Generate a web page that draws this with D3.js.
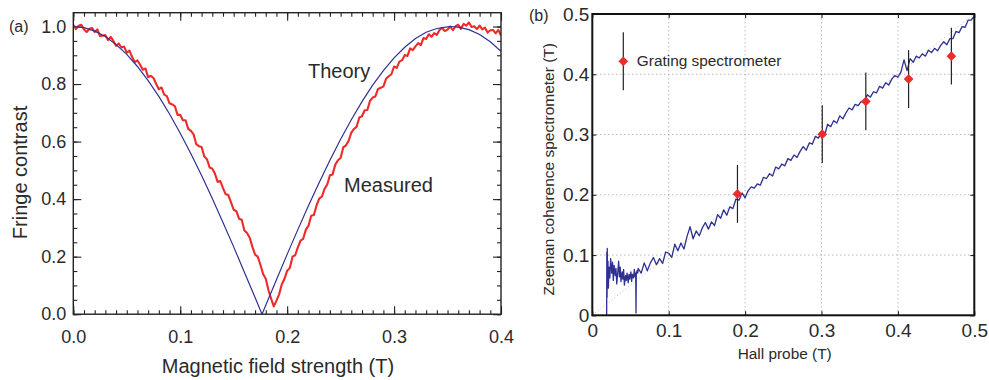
<!DOCTYPE html>
<html><head><meta charset="utf-8">
<script src="https://cdn.jsdelivr.net/npm/d3@7"></script>
<style>
body{margin:0;background:#fff;}
svg{display:block;font-family:"Liberation Sans",Arial,Helvetica,sans-serif;}
</style></head><body>
<svg id="chart" width="989" height="380"></svg>
<script>
// ---------- Panel (a) data ----------
const theoryB = [0,0.01,0.02,0.03,0.04,0.05,0.06,0.07,0.08,0.09,0.10,0.11,0.12,0.13,0.14,0.15,0.16,0.17,0.1765,0.18,0.19,0.20,0.21,0.22,0.23,0.24,0.25,0.26,0.27,0.28,0.29,0.30,0.31,0.32,0.33,0.34,0.35,0.353,0.36,0.37,0.38,0.39,0.40];
const theoryC = [1.000,0.996,0.984,0.965,0.937,0.903,0.861,0.812,0.757,0.696,0.629,0.558,0.482,0.402,0.319,0.234,0.146,0.058,0.000,0.031,0.120,0.208,0.294,0.378,0.458,0.535,0.608,0.676,0.739,0.796,0.847,0.891,0.928,0.958,0.980,0.993,0.999,1.000,0.998,0.989,0.972,0.947,0.914];
const measuredStart = 0, measuredStep = 0.0025;
const measuredC = [1.006,0.991,1.003,1.006,0.990,0.981,0.992,0.995,0.981,0.990,0.967,0.968,0.970,0.953,0.964,0.950,0.933,0.941,0.927,0.930,
0.909,0.916,0.894,0.876,0.882,0.867,0.850,0.854,0.824,0.829,0.821,0.800,0.782,0.788,0.763,0.758,0.733,0.729,0.723,0.693,
0.693,0.674,0.674,0.644,0.637,0.625,0.591,0.584,0.581,0.548,0.539,0.510,0.506,0.488,0.460,0.463,0.438,0.417,0.414,0.389,
0.363,0.358,0.332,0.328,0.291,0.282,0.266,0.234,0.207,0.200,0.172,0.140,0.123,0.084,0.054,0.027,0.047,0.069,0.104,0.123,
0.151,0.161,0.200,0.205,0.232,0.256,0.262,0.294,0.308,0.342,0.345,0.378,0.402,0.409,0.436,0.451,0.483,0.486,0.520,0.535,
0.543,0.580,0.587,0.603,0.631,0.644,0.652,0.684,0.688,0.709,0.710,0.742,0.753,0.757,0.783,0.787,0.791,0.818,0.827,0.834,
0.861,0.856,0.878,0.883,0.901,0.897,0.924,0.918,0.931,0.942,0.935,0.960,0.957,0.973,0.964,0.977,0.971,0.988,0.995,0.984,
0.989,1.000,0.987,1.001,1.006,0.992,1.009,1.003,1.014,0.998,1.001,0.991,1.003,0.990,0.996,0.979,0.987,0.988,0.976,0.988,0.969];
const leftXTicks = [0,0.1,0.2,0.3,0.4];
const leftXLabels = ["0.0","0.1","0.2","0.3","0.4"];
const leftYTicks = [0,0.2,0.4,0.6,0.8,1.0];
const leftYLabels = ["0.0","0.2","0.4","0.6","0.8","1.0"];

// ---------- Panel (b) data ----------
const hallNoisyB = [0.0188,0.0190,0.0193,0.0196,0.0200,0.0205,0.0210,0.0220,0.0230,0.0240,0.0255,0.0265,0.0275,0.0285,0.0300,0.0310,0.0320,0.0335,0.0345,0.0355,0.0365,0.0375,0.0390,0.0400,0.0410,0.0420,0.0435,0.0445,0.0455,0.0470,0.0480,0.0490,0.0505,0.0515,0.0525,0.0540,0.0550,0.0560,0.0568,0.0572,0.0576,0.0585,0.0595];
const hallNoisyZ = [0.000,0.105,0.030,0.111,0.060,0.090,0.045,0.080,0.062,0.094,0.070,0.088,0.058,0.083,0.066,0.078,0.052,0.074,0.090,0.064,0.080,0.056,0.072,0.060,0.076,0.050,0.066,0.058,0.070,0.054,0.068,0.060,0.072,0.056,0.068,0.062,0.076,0.064,0.070,0.004,0.068,0.074,0.070];
const hallStart = 0.06, hallStep = 0.004;
const hallZ = [0.078,0.070,0.087,0.074,0.087,0.096,0.084,0.094,0.086,0.105,0.103,0.096,0.118,0.107,0.120,0.110,0.131,0.147,0.127,0.140,
0.132,0.145,0.154,0.143,0.155,0.149,0.167,0.161,0.175,0.166,0.180,0.177,0.193,0.191,0.203,0.195,0.207,0.213,0.211,0.218,
0.216,0.229,0.227,0.235,0.231,0.246,0.243,0.251,0.248,0.260,0.257,0.266,0.262,0.272,0.280,0.274,0.286,0.284,0.297,0.294,
0.304,0.298,0.317,0.313,0.323,0.319,0.331,0.326,0.336,0.344,0.341,0.350,0.348,0.355,0.353,0.366,0.362,0.371,0.369,0.380,
0.377,0.386,0.382,0.392,0.398,0.395,0.404,0.424,0.406,0.426,0.420,0.430,0.427,0.434,0.430,0.440,0.436,0.443,0.439,0.448,
0.454,0.449,0.459,0.459,0.471,0.469,0.479,0.478,0.490,0.490,0.497];
const gratingB = [0.190,0.301,0.358,0.414,0.470];
const gratingZ = [0.2015,0.3006,0.355,0.392,0.430];
const gratingErr = [0.048,0.048,0.048,0.048,0.047];
const rightTicks = [0,0.1,0.2,0.3,0.4,0.5];
const rightLabels = ["0","0.1","0.2","0.3","0.4","0.5"];

// ---------- drawing ----------
const svg = d3.select("#chart");
const TXT = "#2a2a2a", BLUE = "#2e3192", RED = "#ee2a2a";

// Panel (a)
const xa = d3.scaleLinear().domain([0,0.4]).range([73.3,501]);
const ya = d3.scaleLinear().domain([0,1.048]).range([314.2,12.7]);
const ga = svg.append("g");
svg.append("clipPath").attr("id","clipA").append("rect")
  .attr("x",xa(0)).attr("y",ya(1.048)).attr("width",xa(0.4)-xa(0)).attr("height",ya(0)-ya(1.048));

function styleAxis(g, size){ g.select(".domain").remove(); g.selectAll(".tick line").attr("stroke","#222").attr("stroke-width",1.1); g.selectAll("text").attr("fill",TXT).style("font-size",size+"px"); }

const minorX = d3.range(0,0.4001,0.01), minorY = d3.range(0,1.0001,0.05);
ga.append("g").attr("transform",`translate(0,${ya(0)})`).call(d3.axisBottom(xa).tickValues(minorX).tickSize(-4).tickFormat("")).call(g=>styleAxis(g,18));
ga.append("g").attr("transform",`translate(0,${ya(0)})`).call(d3.axisBottom(xa).tickValues(leftXTicks).tickSize(-8).tickPadding(16).tickFormat((d,i)=>leftXLabels[i])).call(g=>styleAxis(g,18));
ga.append("g").attr("transform",`translate(0,${ya(1.048)})`).call(d3.axisTop(xa).tickValues(minorX).tickSize(-4).tickFormat("")).call(g=>styleAxis(g,18));
ga.append("g").attr("transform",`translate(0,${ya(1.048)})`).call(d3.axisTop(xa).tickValues(leftXTicks).tickSize(-8).tickFormat("")).call(g=>styleAxis(g,18));
ga.append("g").attr("transform",`translate(${xa(0)},0)`).call(d3.axisLeft(ya).tickValues(minorY).tickSize(-4).tickFormat("")).call(g=>styleAxis(g,18));
ga.append("g").attr("transform",`translate(${xa(0)},0)`).call(d3.axisLeft(ya).tickValues(leftYTicks).tickSize(-8).tickPadding(7).tickFormat((d,i)=>leftYLabels[i])).call(g=>styleAxis(g,18));
ga.append("g").attr("transform",`translate(${xa(0.4)},0)`).call(d3.axisRight(ya).tickValues(minorY).tickSize(-4).tickFormat("")).call(g=>styleAxis(g,18));
ga.append("g").attr("transform",`translate(${xa(0.4)},0)`).call(d3.axisRight(ya).tickValues(leftYTicks).tickSize(-8).tickFormat("")).call(g=>styleAxis(g,18));

const measured = measuredC.map((c,i)=>[measuredStart+i*measuredStep,c]);
ga.append("path").datum(measured).attr("clip-path","url(#clipA)")
  .attr("fill","none").attr("stroke",RED).attr("stroke-width",2.1).attr("stroke-linejoin","round")
  .attr("d",d3.line().x(d=>xa(d[0])).y(d=>ya(d[1])));
ga.append("path").datum(theoryB.map((b,i)=>[b,theoryC[i]])).attr("clip-path","url(#clipA)")
  .attr("fill","none").attr("stroke",BLUE).attr("stroke-width",1.2)
  .attr("d",d3.line().x(d=>xa(d[0])).y(d=>ya(d[1])));
ga.append("rect").attr("x",xa(0)).attr("y",ya(1.048)).attr("width",xa(0.4)-xa(0)).attr("height",ya(0)-ya(1.048))
  .attr("fill","none").attr("stroke","#222").attr("stroke-width",1.4);

ga.append("text").attr("x",308).attr("y",78).attr("fill",TXT).style("font-size","20px").text("Theory");
ga.append("text").attr("x",344).attr("y",192).attr("fill",TXT).style("font-size","20px").text("Measured");
ga.append("text").attr("x",9).attr("y",32).attr("fill",TXT).style("font-size","16px").text("(a)");
ga.append("text").attr("transform",`translate(27,172.5) rotate(-90)`).attr("text-anchor","middle").attr("fill",TXT).style("font-size","20px").text("Fringe contrast");
ga.append("text").attr("x",278).attr("y",373).attr("text-anchor","middle").attr("fill",TXT).style("font-size","20px").text("Magnetic field strength (T)");

// Panel (b)
const xb = d3.scaleLinear().domain([0,0.5]).range([592.3,974.3]);
const yb = d3.scaleLinear().domain([0,0.5]).range([315.3,14]);
const gb = svg.append("g");
svg.append("clipPath").attr("id","clipB").append("rect")
  .attr("x",xb(0)).attr("y",yb(0.5)).attr("width",xb(0.5)-xb(0)).attr("height",yb(0)-yb(0.5));

const inner = rightTicks.slice(1,-1);
gb.append("g").selectAll("line").data(inner).join("line")
  .attr("x1",d=>xb(d)).attr("x2",d=>xb(d)).attr("y1",yb(0)).attr("y2",yb(0.5))
  .attr("stroke","#999").attr("stroke-width",1).attr("stroke-dasharray","1,3");
gb.append("g").selectAll("line").data(inner).join("line")
  .attr("y1",d=>yb(d)).attr("y2",d=>yb(d)).attr("x1",xb(0)).attr("x2",xb(0.5))
  .attr("stroke","#999").attr("stroke-width",1).attr("stroke-dasharray","1,3");
gb.append("line").attr("x1",xb(0)).attr("y1",yb(0)).attr("x2",xb(0.5)).attr("y2",yb(0.5))
  .attr("stroke","#bbb").attr("stroke-width",1).attr("stroke-dasharray","1,2.5");

gb.append("g").attr("transform",`translate(0,${yb(0)})`).call(d3.axisBottom(xb).tickValues(rightTicks).tickSize(-4).tickPadding(8).tickFormat((d,i)=>rightLabels[i])).call(g=>styleAxis(g,19));
gb.append("g").attr("transform",`translate(${xb(0)},0)`).call(d3.axisLeft(yb).tickValues(rightTicks).tickSize(-4).tickPadding(3).tickFormat((d,i)=>rightLabels[i])).call(g=>styleAxis(g,19));
gb.append("g").attr("transform",`translate(0,${yb(0.5)})`).call(d3.axisTop(xb).tickValues(rightTicks).tickSize(-4).tickFormat("")).call(g=>styleAxis(g,19));
gb.append("g").attr("transform",`translate(${xb(0.5)},0)`).call(d3.axisRight(yb).tickValues(rightTicks).tickSize(-4).tickFormat("")).call(g=>styleAxis(g,19));

const hall = hallNoisyB.map((b,i)=>[b,hallNoisyZ[i]]).concat(hallZ.map((z,i)=>[hallStart+i*hallStep,z]));
gb.append("path").datum(hall).attr("clip-path","url(#clipB)")
  .attr("fill","none").attr("stroke",BLUE).attr("stroke-width",1.3).attr("stroke-linejoin","round")
  .attr("d",d3.line().x(d=>xb(d[0])).y(d=>yb(d[1])));

const pts = gratingB.map((b,i)=>({b,z:gratingZ[i],e:gratingErr[i]}));
gb.append("g").selectAll("line").data(pts).join("line")
  .attr("x1",d=>xb(d.b)).attr("x2",d=>xb(d.b)).attr("y1",d=>yb(d.z-d.e)).attr("y2",d=>yb(d.z+d.e))
  .attr("stroke","#222").attr("stroke-width",1.2);
const diamond = d3.symbol().type(d3.symbolDiamond2).size(60);
gb.append("g").selectAll("path").data(pts).join("path")
  .attr("transform",d=>`translate(${xb(d.b)},${yb(d.z)})`).attr("d",diamond).attr("fill",RED);

gb.append("rect").attr("x",xb(0)).attr("y",yb(0.5)).attr("width",xb(0.5)-xb(0)).attr("height",yb(0)-yb(0.5))
  .attr("fill","none").attr("stroke","#111").attr("stroke-width",2);

const lg = gb.append("g").attr("transform",`translate(623.3,61.3)`);
lg.append("line").attr("x1",0).attr("x2",0).attr("y1",-29).attr("y2",29).attr("stroke","#222").attr("stroke-width",1.2);
lg.append("path").attr("d",diamond).attr("fill",RED);
lg.append("text").attr("x",13.5).attr("y",4.5).attr("fill",TXT).style("font-size","15.4px").text("Grating spectrometer");

gb.append("text").attr("x",529).attr("y",21).attr("fill",TXT).style("font-size","16px").text("(b)");
gb.append("text").attr("transform",`translate(554,169.2) rotate(-90)`).attr("text-anchor","middle").attr("fill",TXT).style("font-size","15.5px").text("Zeeman coherence spectrometer (T)");
gb.append("text").attr("x",784.7).attr("y",359).attr("text-anchor","middle").attr("fill",TXT).style("font-size","15.4px").text("Hall probe (T)");
</script>
</body></html>
